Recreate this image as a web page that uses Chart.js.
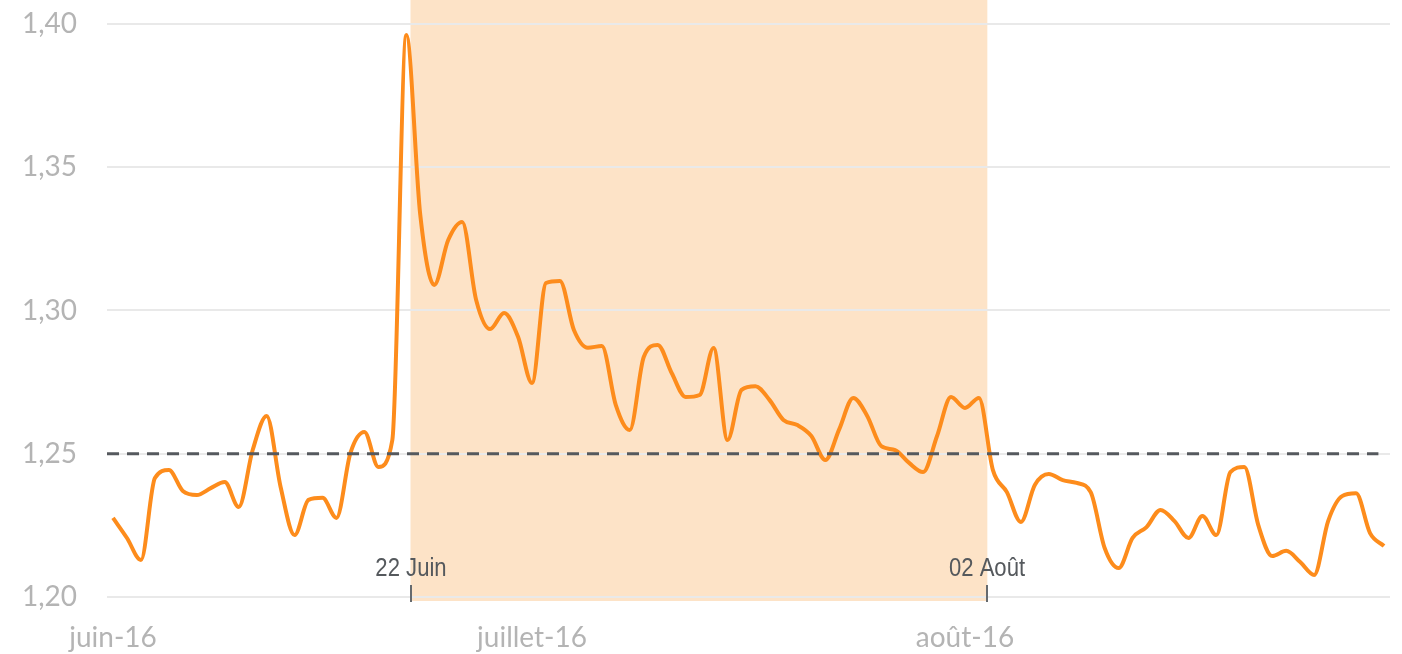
<!DOCTYPE html>
<html>
<head>
<meta charset="utf-8">
<script src="https://cdn.jsdelivr.net/npm/chart.js@4"></script>
<style>
  html, body { margin: 0; padding: 0; background: #ffffff; }
  #wrap { width: 1402px; height: 654px; }
</style>
</head>
<body>
<div id="wrap"><canvas id="c" width="1402" height="654"></canvas></div>
<script>
// Daily values, 1 June 2016 (index 0) to 31 August 2016 (index 91)
const dayIndex = Array.from({length: 92}, (_, i) => i);
const values = [
  1.2276, 1.2206, 1.2129, 1.2415, 1.2443, 1.2370, 1.2356, 1.2380, 1.2401, 1.2314,
  1.2513, 1.2632, 1.2384, 1.2216, 1.2339, 1.2346, 1.2276, 1.2503, 1.2576, 1.2454,
  1.2548, 1.3962, 1.3333, 1.3089, 1.3246, 1.3309, 1.3037, 1.2935, 1.2991, 1.2908,
  1.2747, 1.3096, 1.3103, 1.2932, 1.2870, 1.2876, 1.2670, 1.2583, 1.2838, 1.2880,
  1.2782, 1.2698, 1.2705, 1.2869, 1.2548, 1.2723, 1.2736, 1.2688, 1.2618, 1.2600,
  1.2562, 1.2478, 1.2586, 1.2695, 1.2632, 1.2527, 1.2513, 1.2468, 1.2436, 1.2562,
  1.2698, 1.2660, 1.2695, 1.2443, 1.2366, 1.2262, 1.2391, 1.2429, 1.2408, 1.2398,
  1.2366, 1.2171, 1.2101, 1.2206, 1.2244, 1.2304, 1.2265, 1.2206, 1.2283, 1.2216,
  1.2436, 1.2454, 1.2251, 1.2143, 1.2161, 1.2122, 1.2077, 1.2265, 1.2352, 1.2362,
  1.2223, 1.2178
];
// Month tick labels (index of first day of month)
const monthTickIndex = [0, 30, 61];
const monthTickLabels = ['juin-16', 'juillet-16', 'août-16'];
// Y ticks
const yTicks = [1.20, 1.25, 1.30, 1.35, 1.40];
// Threshold dashed line
const thresholdValue = 1.25;
const thresholdFrom = -0.43;
const thresholdTo = 90.6;
// Highlighted period
const bandStart = 21.3;
const bandEnd = 62.6;
const bandLabels = ['22 Juin', '02 Août'];

const xMin = -0.43, xMax = 91.43;

const bandPlugin = {
  id: 'band',
  beforeDraw(chart) {
    const {ctx, chartArea, scales: {x}} = chart;
    const x1 = x.getPixelForValue(bandStart);
    const x2 = x.getPixelForValue(bandEnd);
    ctx.save();
    ctx.fillStyle = '#fde3c7';
    ctx.fillRect(x1, 0, x2 - x1, chartArea.bottom + 4);
    ctx.restore();
  },
  afterDraw(chart) {
    const {ctx, chartArea, scales: {x}} = chart;
    [bandStart, bandEnd].forEach((v, i) => {
      const px = Math.round(x.getPixelForValue(v));
      ctx.save();
      ctx.fillStyle = '#666a6e';
      ctx.fillRect(px - 1, chartArea.bottom - 12, 2, 17);
      ctx.translate(px, chartArea.bottom - 21);
      ctx.scale(0.85, 1);
      ctx.font = '26px "Liberation Sans", Arial, sans-serif';
      ctx.textAlign = 'center';
      ctx.textBaseline = 'alphabetic';
      ctx.fillStyle = '#55595d';
      ctx.fillText(bandLabels[i], 0, 0);
      ctx.restore();
    });
  }
};

new Chart(document.getElementById('c'), {
  type: 'line',
  data: {
    datasets: [
      {
        label: 'threshold',
        data: [{x: thresholdFrom, y: thresholdValue}, {x: thresholdTo, y: thresholdValue}],
        borderColor: '#55595e',
        borderWidth: 3,
        borderDash: [12, 8],
        pointRadius: 0,
        order: 0
      },
      {
        label: 'série',
        data: dayIndex.map((d, i) => ({x: d, y: values[i]})),
        borderColor: '#fd8c1c',
        borderWidth: 4,
        pointRadius: 0,
        cubicInterpolationMode: 'monotone',
        order: 1
      }
    ]
  },
  options: {
    responsive: false,
    animation: false,
    layout: { padding: { top: 24, right: 12, left: 0, bottom: 0 } },
    plugins: { legend: { display: false }, tooltip: { enabled: false } },
    scales: {
      x: {
        type: 'linear',
        min: xMin,
        max: xMax,
        grid: { display: false, drawTicks: false },
        border: { display: false },
        afterBuildTicks(scale) { scale.ticks = monthTickIndex.map(v => ({value: v})); },
        afterFit(scale) { scale.height = 57; scale.paddingLeft = 0; scale.paddingRight = 0; },
        ticks: {
          autoSkip: false,
          maxRotation: 0,
          padding: 24,
          color: '#b4b4b4',
          font: { family: 'Lato', size: 28, weight: '400' },
          callback: (v) => monthTickLabels[monthTickIndex.indexOf(v)]
        }
      },
      y: {
        min: 1.20,
        max: 1.40,
        grid: { color: '#e9e9e9', lineWidth: 2, drawTicks: false },
        border: { display: false },
        afterBuildTicks(scale) { scale.ticks = yTicks.map(v => ({value: v})); },
        afterFit(scale) { scale.width = 107; scale.paddingTop = 0; scale.paddingBottom = 0; },
        ticks: {
          padding: 30,
          color: '#b4b4b4',
          font: { family: 'Lato', size: 28, weight: '400' },
          callback: (v) => v.toFixed(2).replace('.', ',')
        }
      }
    }
  },
  plugins: [bandPlugin]
});
</script>
</body>
</html>
